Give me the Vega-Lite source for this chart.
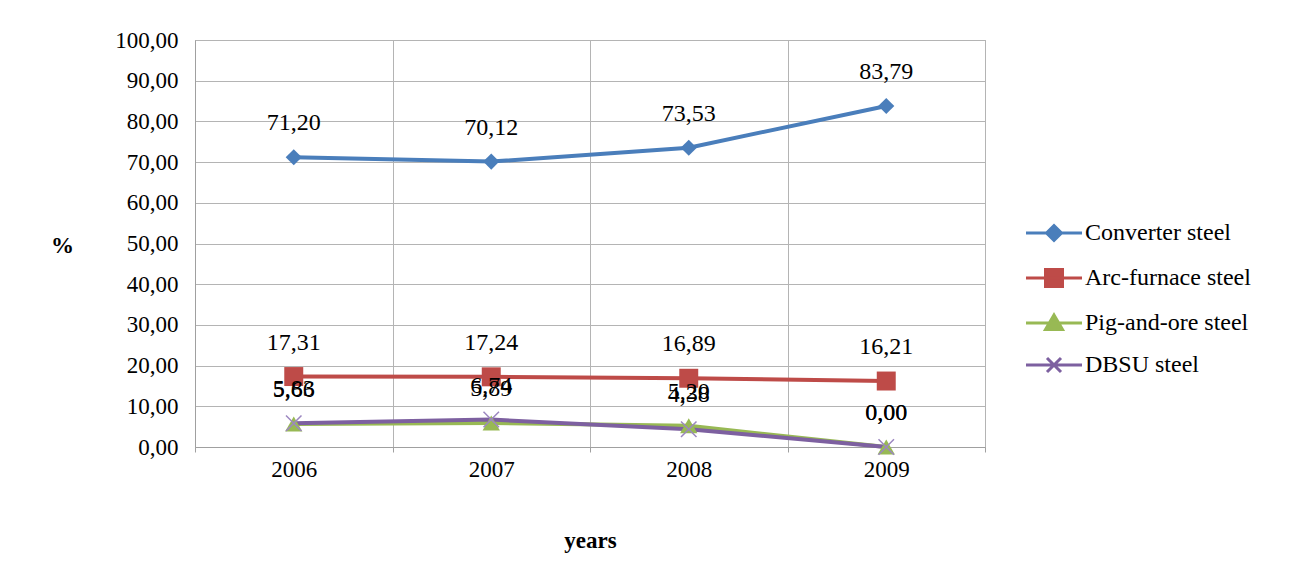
{
  "$schema": "https://vega.github.io/schema/vega-lite/v6.json",
  "width": 790,
  "height": 407,
  "autosize": "none",
  "padding": {"left": 195, "top": 40, "right": 316, "bottom": 134},
  "background": "white",
  "config": {
    "locale": {"number": {"decimal": ",", "thousands": " ", "grouping": [3], "currency": ["", ""]}},
    "font": "Liberation Serif",
    "view": {"stroke": "#a0a0a0", "strokeWidth": 1},
    "axis": {"gridColor": "#b4b4b4", "domainColor": "#a0a0a0", "tickColor": "#a0a0a0", "labelColor": "black", "titleColor": "black"}
  },
  "data": {
    "values": [
      {"year": "2006", "series": "Converter steel", "value": 71.20},
      {"year": "2007", "series": "Converter steel", "value": 70.12},
      {"year": "2008", "series": "Converter steel", "value": 73.53},
      {"year": "2009", "series": "Converter steel", "value": 83.79},
      {"year": "2006", "series": "Arc-furnace steel", "value": 17.31},
      {"year": "2007", "series": "Arc-furnace steel", "value": 17.24},
      {"year": "2008", "series": "Arc-furnace steel", "value": 16.89},
      {"year": "2009", "series": "Arc-furnace steel", "value": 16.21},
      {"year": "2006", "series": "Pig-and-ore steel", "value": 5.66},
      {"year": "2007", "series": "Pig-and-ore steel", "value": 5.89},
      {"year": "2008", "series": "Pig-and-ore steel", "value": 5.20},
      {"year": "2009", "series": "Pig-and-ore steel", "value": 0.00},
      {"year": "2006", "series": "DBSU steel", "value": 5.83},
      {"year": "2007", "series": "DBSU steel", "value": 6.74},
      {"year": "2008", "series": "DBSU steel", "value": 4.38},
      {"year": "2009", "series": "DBSU steel", "value": 0.00}
    ]
  },
  "encoding": {
    "x": {
      "field": "year",
      "type": "ordinal",
      "bandPosition": 0.5,
      "scale": {"type": "band", "paddingInner": 0, "paddingOuter": 0},
      "axis": {
        "title": "years",
        "labelAngle": 0,
        "tickBand": "extent",
        "grid": true,
        "ticks": true,
        "tickSize": 5,
        "labelFont": "Liberation Serif",
        "titleFont": "Liberation Serif",
        "labelFontSize": 23,
        "labelPadding": 6,
        "titleFontSize": 23,
        "titleFontWeight": "bold",
        "titleY": 93,
        "titleBaseline": "middle"
      }
    },
    "y": {
      "field": "value",
      "type": "quantitative",
      "scale": {"domain": [0, 100]},
      "axis": {
        "title": "%",
        "titleAngle": 0,
        "titleX": -133,
        "titleY": 205,
        "titleAlign": "center",
        "titleBaseline": "middle",
        "titleFontWeight": "bold",
        "titleFontSize": 23,
        "labelFont": "Liberation Serif",
        "titleFont": "Liberation Serif",
        "values": [0, 10, 20, 30, 40, 50, 60, 70, 80, 90, 100],
        "format": ".2f",
        "ticks": false,
        "labelPadding": 17,
        "labelFontSize": 23,
        "grid": true
      }
    }
  },
  "layer": [
    {
      "mark": {"type": "line", "strokeWidth": 4},
      "encoding": {
        "color": {
          "field": "series",
          "type": "nominal",
          "sort": ["Converter steel", "Arc-furnace steel", "Pig-and-ore steel", "DBSU steel"],
          "scale": {
            "domain": ["Converter steel", "Arc-furnace steel", "Pig-and-ore steel", "DBSU steel"],
            "range": ["#4a7ebb", "#be4b48", "#98b954", "#7d60a0"]
          },
          "legend": {
            "title": null,
            "orient": "none",
            "legendX": 847,
            "legendY": 181,
            "padding": 0,
            "symbolSize": 400,
            "symbolStrokeWidth": 3,
            "labelFont": "Liberation Serif",
            "labelFontSize": 24,
            "labelOffset": 19,
            "rowPadding": 16,
            "labelLimit": 300,
            "encode": {
              "symbols": {
                "update": {
                  "shape": {"signal": "datum.value === 'Converter steel' ? 'M-2.8,0L2.8,0M-0.75,0L0,-0.75L0.75,0L0,0.75Z' : datum.value === 'Arc-furnace steel' ? 'M-2.8,0L2.8,0M-0.85,-0.85L0.85,-0.85L0.85,0.85L-0.85,0.85Z' : datum.value === 'Pig-and-ore steel' ? 'M-2.8,0L2.8,0M0,-0.8L0.85,0.65L-0.85,0.65Z' : 'M-2.8,0L2.8,0M-0.7,-0.7L0.7,0.7M-0.7,0.7L0.7,-0.7'"},
                  "fill": {"signal": "scale('color', datum.value)"},
                  "stroke": {"signal": "scale('color', datum.value)"},
                  "strokeWidth": {"value": 3}
                }
              }
            }
          }
        }
      }
    },
    {
      "transform": [{"filter": "datum.series === 'Converter steel'"}],
      "mark": {"type": "point", "shape": "diamond", "filled": true, "size": 260, "color": "#4a7ebb", "opacity": 1}
    },
    {
      "transform": [{"filter": "datum.series === 'Arc-furnace steel'"}],
      "mark": {"type": "point", "shape": "square", "filled": true, "size": 360, "color": "#be4b48", "opacity": 1}
    },
    {
      "transform": [{"filter": "datum.series === 'Pig-and-ore steel'"}],
      "mark": {"type": "point", "shape": "triangle-up", "filled": true, "size": 300, "color": "#98b954", "opacity": 1}
    },
    {
      "transform": [{"filter": "datum.series === 'DBSU steel'"}],
      "mark": {"type": "point", "shape": "M-1,-1L1,1M-1,1L1,-1", "filled": false, "size": 240, "color": "#9c87c0", "strokeWidth": 1.5, "opacity": 1}
    },
    {
      "mark": {"type": "text", "dy": -34, "fontSize": 24, "color": "black", "font": "Liberation Serif"},
      "encoding": {
        "text": {"field": "value", "type": "quantitative", "format": ".2f"}
      }
    }
  ]
}
